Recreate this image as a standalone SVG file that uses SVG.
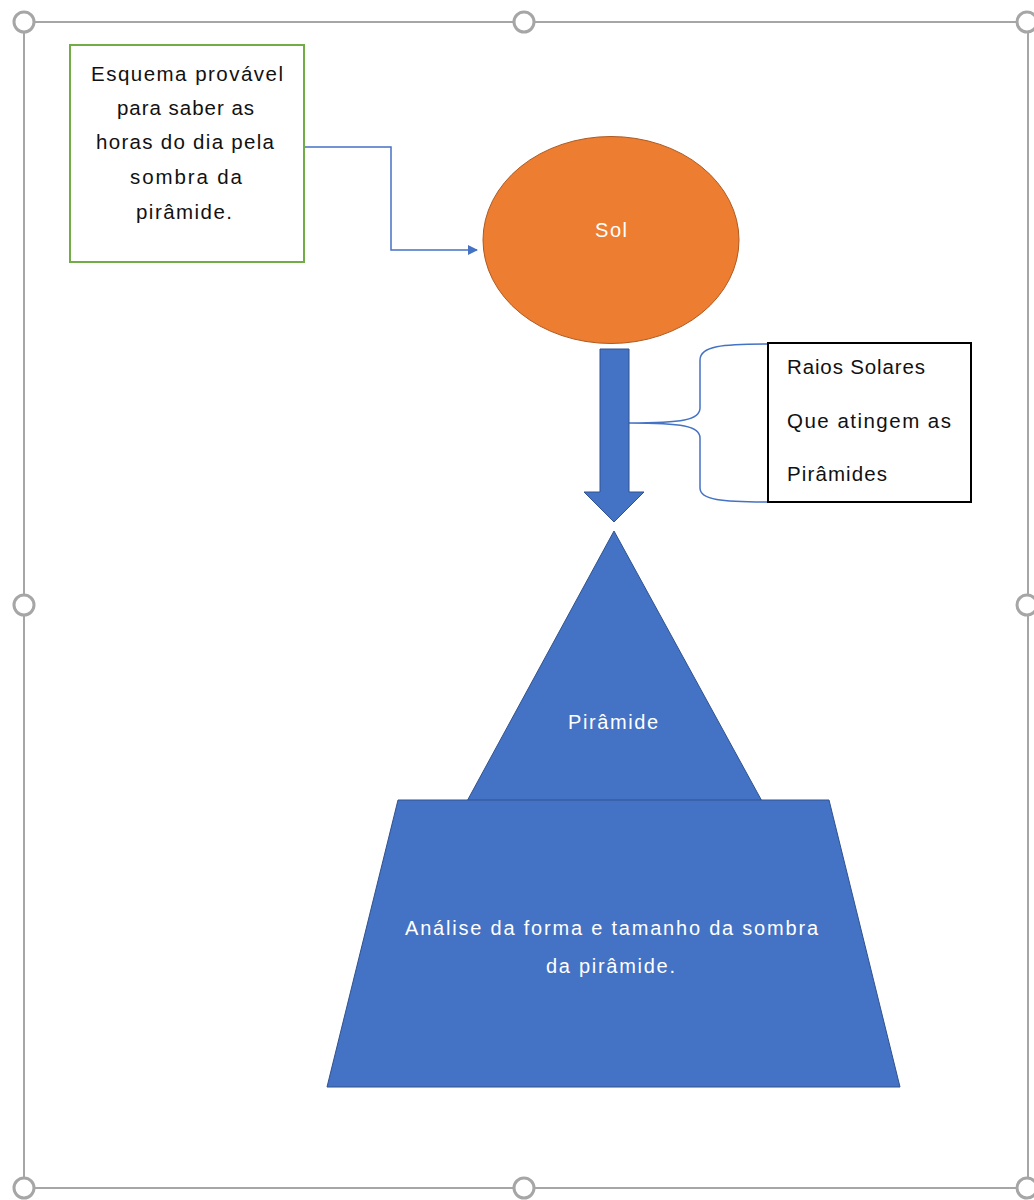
<svg xmlns="http://www.w3.org/2000/svg" width="1034" height="1200" viewBox="0 0 1034 1200">
<style>
.frame{fill:none;stroke:#A6A6A6;stroke-width:2}
.handle{fill:#fff;stroke:#A6A6A6;stroke-width:3}
.t{font-family:"Liberation Sans",Arial,sans-serif;font-size:20.5px;fill:#111}
.w{font-family:"Liberation Sans",Arial,sans-serif;font-size:20px;fill:#fff}
.blue{fill:#4472C4;stroke:#2F528F;stroke-width:1}
.conn{fill:none;stroke:#4472C4;stroke-width:1.5}
.brace{fill:none;stroke:#4472C4;stroke-width:1.5}
</style>
<defs>
<marker id="ah" markerWidth="10" markerHeight="10" refX="9" refY="5" orient="auto" markerUnits="userSpaceOnUse">
<path d="M0,0 L10,5 L0,10 z" fill="#4472C4"/>
</marker>
</defs>
<rect width="1034" height="1200" fill="#fff"/>
<g id="selection-frame">
<rect class="frame" x="24" y="22" width="1004" height="1166"/>
<circle class="handle" cx="24" cy="22" r="10"/>
<circle class="handle" cx="524" cy="22" r="10"/>
<circle class="handle" cx="1027" cy="22" r="10"/>
<circle class="handle" cx="24" cy="605" r="10"/>
<circle class="handle" cx="1027" cy="605" r="10"/>
<circle class="handle" cx="24" cy="1188" r="10"/>
<circle class="handle" cx="524" cy="1188" r="10"/>
<circle class="handle" cx="1027" cy="1188" r="10"/>
</g>
<g id="connectors">
<path class="conn" d="M304,147 H391 V250 H477" marker-end="url(#ah)"/>
<path class="brace" d="M768,344 C722,344 700,346 700,360 L700,408 C700,420 682,423 629,423 C682,423 700,426 700,438 L700,488 C700,500 722,502 768,502"/>
</g>
<g id="note">
<rect x="70" y="45" width="234" height="217" fill="#fff" stroke="#70AD47" stroke-width="2"/>
<text class="t" x="91" y="81" textLength="192" lengthAdjust="spacing">Esquema provável</text>
<text class="t" x="117" y="115" textLength="137" lengthAdjust="spacing">para saber as</text>
<text class="t" x="96" y="149" textLength="178" lengthAdjust="spacing">horas do dia pela</text>
<text class="t" x="130" y="184" textLength="112" lengthAdjust="spacing">sombra da</text>
<text class="t" x="136" y="219" textLength="96" lengthAdjust="spacing">pirâmide.</text>
</g>
<g id="sol">
<ellipse cx="611" cy="240" rx="128" ry="103.5" fill="#ED7D31" stroke="#AE5A21" stroke-width="1"/>
<text class="w" x="595" y="237" textLength="32" lengthAdjust="spacing">Sol</text>
</g>
<g id="raios-arrow">
<path class="blue" d="M600,349 H629 V492 H644 L614,522 L584,492 H600 Z"/>
</g>
<g id="raios-label">
<rect x="768" y="343" width="203" height="159" fill="#fff" stroke="#000" stroke-width="2"/>
<text class="t" x="787" y="374" textLength="138" lengthAdjust="spacing">Raios Solares</text>
<text class="t" x="787" y="428" textLength="164" lengthAdjust="spacing">Que atingem as</text>
<text class="t" x="787" y="481" textLength="100" lengthAdjust="spacing">Pirâmides</text>
</g>
<g id="piramide">
<path class="blue" d="M614,531 L763,803 L466,803 Z"/>
<text class="w" x="568" y="729" textLength="90" lengthAdjust="spacing">Pirâmide</text>
</g>
<g id="analise">
<path class="blue" d="M398,800 H829 L900,1087 H327 Z"/>
<text class="w" x="405" y="935" textLength="413" lengthAdjust="spacing">Análise da forma e tamanho da sombra</text>
<text class="w" x="546" y="973" textLength="129" lengthAdjust="spacing">da pirâmide.</text>
</g>
</svg>
